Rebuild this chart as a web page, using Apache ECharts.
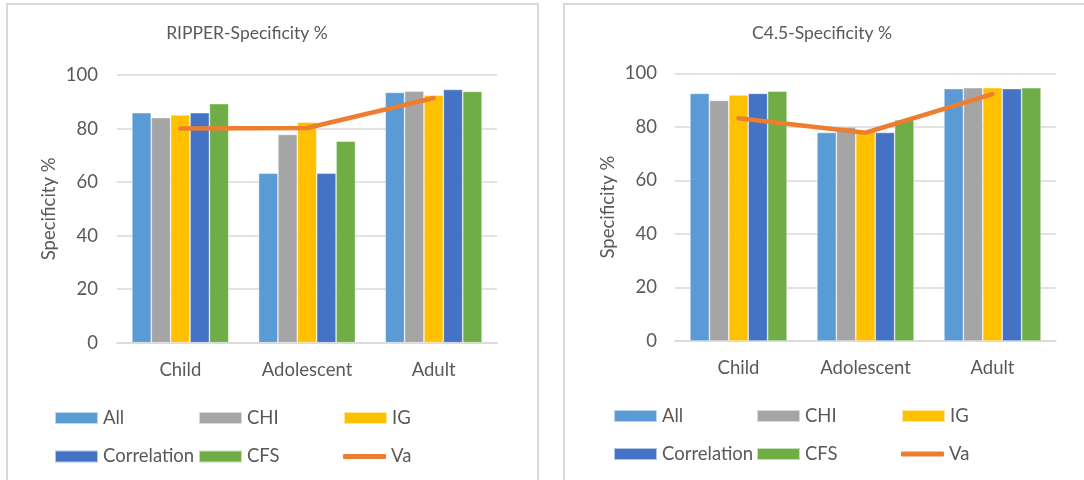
<!DOCTYPE html>
<html>
<head>
<meta charset="utf-8">
<script src="https://cdn.jsdelivr.net/npm/echarts@6/dist/echarts.min.js"></script>
<style>html,body{margin:0;padding:0;background:#fff}#c{width:1084px;height:480px}</style>
</head>
<body>
<div id="c"></div>
<script>
const categories = ['Child', 'Adolescent', 'Adult'];
const seriesNames = ['All', 'CHI', 'IG', 'Correlation', 'CFS', 'Va'];
const yTicks = [0, 20, 40, 60, 80, 100];

const ripperAll  = [85.9, 63.3, 93.5];
const ripperCHI  = [84.1, 77.8, 94.0];
const ripperIG   = [85.1, 82.4, 92.5];
const ripperCorr = [85.9, 63.3, 94.6];
const ripperCFS  = [89.3, 75.3, 93.9];
const ripperVa   = [80.0, 80.2, 91.4];

const c45All  = [92.5, 77.9, 94.3];
const c45CHI  = [89.9, 80.0, 94.6];
const c45IG   = [91.9, 78.5, 94.6];
const c45Corr = [92.5, 77.9, 94.3];
const c45CFS  = [93.3, 82.6, 94.6];
const c45Va   = [83.2, 77.8, 92.2];

const colors = ['#5B9BD5', '#A5A5A5', '#FFC000', '#4472C4', '#70AD47', '#ED7D31'];
const FONT = 'Lato';
const TXT = '#595959';
const FS = 18.5;
const TFS = 17.5;

const ripperData = [ripperAll, ripperCHI, ripperIG, ripperCorr, ripperCFS, ripperVa];
const c45Data = [c45All, c45CHI, c45IG, c45Corr, c45CFS, c45Va];

function makeAxes(idx, nameGap, labelMargin) {
  return {
    x: {
      type: 'category', gridIndex: idx, data: categories,
      axisLine: {lineStyle: {color: '#d9d9d9', width: 1.5}},
      axisTick: {show: false},
      axisLabel: {color: TXT, fontFamily: FONT, fontSize: FS, margin: 18}
    },
    y: {
      type: 'value', gridIndex: idx, min: yTicks[0], max: yTicks[yTicks.length - 1], interval: 20,
      name: 'Specificity %', nameLocation: 'middle', nameGap: nameGap,
      nameTextStyle: {color: TXT, fontFamily: FONT, fontSize: FS},
      axisLine: {show: false}, axisTick: {show: false},
      axisLabel: {color: TXT, fontFamily: FONT, fontSize: FS, margin: labelMargin},
      splitLine: {lineStyle: {color: '#d9d9d9', width: 1.5}}
    }
  };
}

function makeSeries(idx, data) {
  return seriesNames.map((n, i) => {
    if (n === 'Va') {
      return {
        name: n, type: 'line', xAxisIndex: idx, yAxisIndex: idx, data: data[i],
        symbol: 'none', z: 5,
        lineStyle: {color: colors[i], width: 4.5, cap: 'round', join: 'round'},
        itemStyle: {color: colors[i]}
      };
    }
    return {
      name: n, type: 'bar', xAxisIndex: idx, yAxisIndex: idx, data: data[i],
      barGap: '0%', barCategoryGap: '23.5%',
      itemStyle: {color: colors[i], borderColor: 'rgba(255,255,255,0.6)', borderWidth: 0.7}
    };
  });
}

function makeLegends(xs, ys) {
  const out = [];
  seriesNames.forEach((n, i) => {
    const col = i % 3, row = Math.floor(i / 3);
    const isLine = n === 'Va';
    out.push({
      data: [{name: n, icon: isLine ? 'roundRect' : 'rect'}],
      left: xs[col], top: ys[row] - 11, padding: 0,
      itemWidth: 43, itemHeight: isLine ? 5 : 12, itemGap: 5,
      selectedMode: false,
      textStyle: {color: TXT, fontFamily: FONT, fontSize: FS, lineHeight: 22, height: 22, padding: 0}
    });
  });
  return out;
}

const a0 = makeAxes(0, 58, 19);
const a1 = makeAxes(1, 57, 18);

const option = {
  animation: false,
  color: colors,
  grid: [
    {left: 117, top: 75, width: 380, height: 267.7},
    {left: 675, top: 73.3, width: 381, height: 267.7}
  ],
  xAxis: [a0.x, a1.x],
  yAxis: [a0.y, a1.y],
  legend: makeLegends([54, 198, 343], [418, 456.5]).concat(makeLegends([613, 756, 901], [416, 454])),
  series: makeSeries(0, ripperData).concat(makeSeries(1, c45Data)),
  graphic: [
    {type: 'rect', shape: {x: 7, y: 4, width: 531, height: 490}, style: {fill: 'none', stroke: '#d9d9d9', lineWidth: 2}, z: -1},
    {type: 'rect', shape: {x: 564, y: 4, width: 540, height: 490}, style: {fill: 'none', stroke: '#d9d9d9', lineWidth: 2}, z: -1},
    {type: 'text', position: [247, 33], style: {text: 'RIPPER-Specificity %', fill: TXT, font: TFS + 'px ' + FONT, textAlign: 'center', textVerticalAlign: 'middle'}},
    {type: 'text', position: [822, 33], style: {text: 'C4.5-Specificity %', fill: TXT, font: TFS + 'px ' + FONT, textAlign: 'center', textVerticalAlign: 'middle'}}
  ]
};

const chart = echarts.init(document.getElementById('c'), null, {renderer: 'canvas'});
chart.setOption(option);
</script>
</body>
</html>
